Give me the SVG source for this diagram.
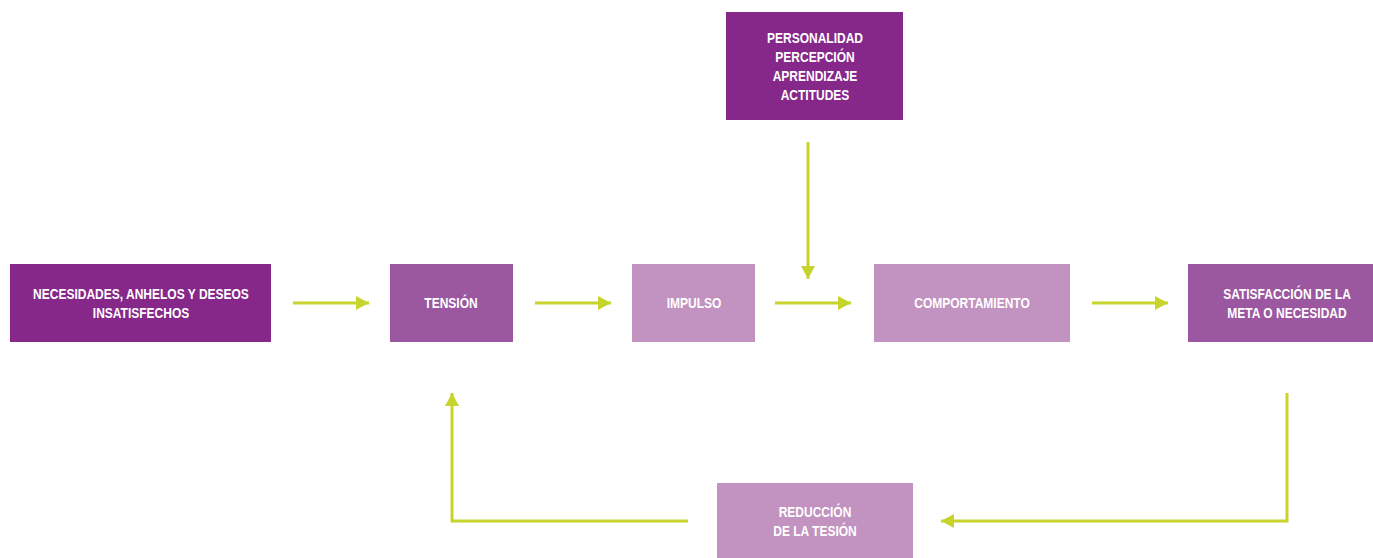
<svg xmlns="http://www.w3.org/2000/svg" width="1373" height="558" viewBox="0 0 1373 558">
<defs>
<style>
.dark{fill:#86288a}
.mid{fill:#9b58a0}
.light{fill:#c292c0}
text{font-family:"Liberation Sans",Arial,sans-serif;font-weight:bold;font-size:15px;fill:#ffffff;text-anchor:middle}
.c{stroke:#c8d42e;stroke-width:3;fill:none}
</style>
<marker id="ah" viewBox="0 0 13 14" refX="13" refY="7" markerWidth="13" markerHeight="14" markerUnits="userSpaceOnUse" orient="auto">
<path d="M0,0 L13,7 L0,14 Z" fill="#c8d42e"/>
</marker>
</defs>
<rect width="1373" height="558" fill="#ffffff"/>
<g id="n1"><rect class="dark" x="10" y="264" width="261" height="78"/><g transform="translate(141,0) scale(0.8,1)"><text x="0" y="299">NECESIDADES, ANHELOS Y DESEOS</text><text x="0" y="318">INSATISFECHOS</text></g></g>
<g id="n2"><rect class="mid" x="390" y="264" width="123" height="78"/><g transform="translate(451,0) scale(0.8,1)"><text x="0" y="308">TENSIÓN</text></g></g>
<g id="n3"><rect class="light" x="632" y="264" width="123" height="78"/><g transform="translate(694,0) scale(0.8,1)"><text x="0" y="308">IMPULSO</text></g></g>
<g id="n4"><rect class="light" x="874" y="264" width="196" height="78"/><g transform="translate(972,0) scale(0.8,1)"><text x="0" y="308">COMPORTAMIENTO</text></g></g>
<g id="n5"><rect class="mid" x="1188" y="264" width="185" height="78"/><g transform="translate(1287,0) scale(0.8,1)"><text x="0" y="299">SATISFACCIÓN DE LA</text><text x="0" y="318">META O NECESIDAD</text></g></g>
<g id="n6"><rect class="dark" x="726" y="12" width="177" height="108"/><g transform="translate(815,0) scale(0.8,1)"><text x="0" y="43">PERSONALIDAD</text><text x="0" y="62">PERCEPCIÓN</text><text x="0" y="81">APRENDIZAJE</text><text x="0" y="100">ACTITUDES</text></g></g>
<g id="n7"><rect class="light" x="717" y="483" width="196" height="75"/><g transform="translate(815,0) scale(0.8,1)"><text x="0" y="517">REDUCCIÓN</text><text x="0" y="536">DE LA TESIÓN</text></g></g>
<g id="connectors">
<line class="c" x1="293" y1="303" x2="369" y2="303" marker-end="url(#ah)"/>
<line class="c" x1="535" y1="303" x2="611" y2="303" marker-end="url(#ah)"/>
<line class="c" x1="775" y1="303" x2="851" y2="303" marker-end="url(#ah)"/>
<line class="c" x1="1092" y1="303" x2="1168" y2="303" marker-end="url(#ah)"/>
<line class="c" x1="808" y1="142" x2="808" y2="279" marker-end="url(#ah)"/>
<polyline class="c" points="1287,393 1287,521 941,521" marker-end="url(#ah)"/>
<polyline class="c" points="688,521 452,521 452,393" marker-end="url(#ah)"/>
</g>
</svg>
